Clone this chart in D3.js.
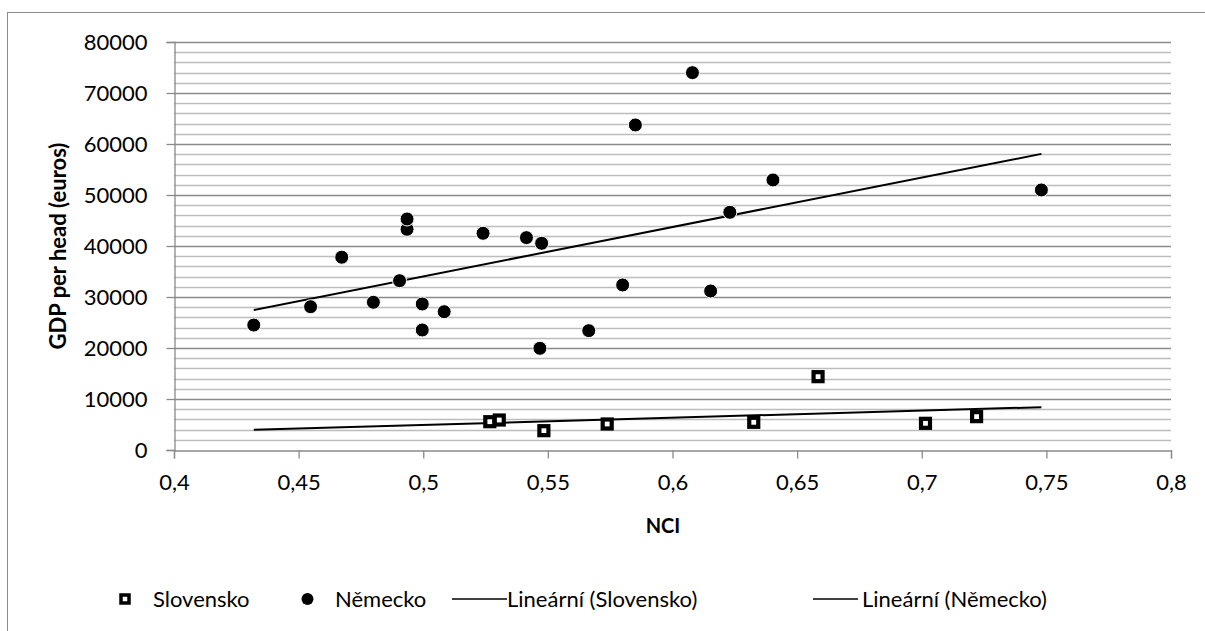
<!DOCTYPE html>
<html>
<head>
<meta charset="utf-8">
<script src="https://cdn.jsdelivr.net/npm/d3@7"></script>
<style>
  html, body { margin: 0; padding: 0; background: #fff; }
  svg { display: block; font-family: Lato, "Open Sans", sans-serif; }
</style>
</head>
<body>
<svg id="chart" width="1205" height="631"></svg>
<script>
// NCI vs. GDP per head, two regions
const slovenskoNci = [0.5267, 0.5305, 0.5484, 0.5738, 0.6326, 0.6584, 0.7015, 0.722];
const slovenskoGdp = [5550, 5880, 3790, 5100, 5430, 14380, 5230, 6540];

const nemeckoNci = [0.432, 0.4548, 0.4673, 0.48, 0.4905, 0.4935, 0.4935, 0.4996, 0.4996,
  0.5084, 0.524, 0.5414, 0.5475, 0.5468, 0.5664, 0.58, 0.5851, 0.608, 0.6153, 0.623, 0.6403, 0.748];
const nemeckoGdp = [24500, 28100, 37800, 28960, 33200, 43280, 45300, 28630, 23530,
  27120, 42490, 41640, 40530, 19940, 23400, 32360, 63730, 73990, 31180, 46610, 52950, 50990];

const xTicks = [0.4, 0.45, 0.5, 0.55, 0.6, 0.65, 0.7, 0.75, 0.8];
const yTicks = [0, 10000, 20000, 30000, 40000, 50000, 60000, 70000, 80000];
const yMinorStep = 2000;

const legendLabels = ["Slovensko", "Německo", "Lineární (Slovensko)", "Lineární (Německo)"];

const svg = d3.select("#chart");
const plot = { left: 174, right: 1171, top: 42, bottom: 450 };

const x = d3.scaleLinear().domain([0.4, 0.8]).range([plot.left, plot.right]);
const y = d3.scaleLinear().domain([0, 80000]).range([plot.bottom, plot.top]);

// chart-area frame
svg.append("rect")
  .attr("x", 7.5).attr("y", 12.5)
  .attr("width", 1300).attr("height", 700)
  .attr("fill", "none").attr("stroke", "#8c8c8c").attr("stroke-width", 1);

// minor horizontal gridlines
const minor = d3.range(0, 80001, yMinorStep).filter(v => v % 10000 !== 0);
svg.append("g").selectAll("line").data(minor).join("line")
  .attr("x1", plot.left).attr("x2", plot.right)
  .attr("y1", d => Math.round(y(d)) + 0.5).attr("y2", d => Math.round(y(d)) + 0.5)
  .attr("stroke", "#bdbdbd").attr("stroke-width", 1.3);

// major horizontal gridlines
svg.append("g").selectAll("line").data(yTicks.filter(v => v > 0)).join("line")
  .attr("x1", plot.left).attr("x2", plot.right)
  .attr("y1", d => Math.round(y(d)) + 0.5).attr("y2", d => Math.round(y(d)) + 0.5)
  .attr("stroke", "#8a8a8a").attr("stroke-width", 1.3);

// axes
const yAxis = d3.axisLeft(y).tickValues(yTicks).tickSize(8).tickPadding(19)
  .tickFormat(d => String(d));
const gy = svg.append("g").attr("transform", `translate(${plot.left + 0.5},0)`).call(yAxis);

const fmtX = d => String(+d.toFixed(2)).replace(".", ",");
const xAxis = d3.axisBottom(x).tickValues(xTicks).tickSize(8).tickPadding(16).tickFormat(fmtX);
const gx = svg.append("g").attr("transform", `translate(0,${plot.bottom + 0.5})`).call(xAxis);

[gx, gy].forEach(g => {
  g.select(".domain").attr("stroke", "#8a8a8a").attr("stroke-width", 1.3);
  g.selectAll(".tick line").attr("stroke", "#8a8a8a").attr("stroke-width", 1.3);
  g.selectAll(".tick text").attr("fill", "#000").style("font-size", "22px")
    .style("font-family", "Lato, sans-serif");
});
gy.selectAll(".tick text").attr("dy", "0.36em");

// axis titles
svg.append("text")
  .attr("transform", `translate(66,${(plot.top + plot.bottom) / 2}) rotate(-90)`)
  .attr("text-anchor", "middle")
  .style("font-size", "22px").style("font-weight", "bold")
  .text("GDP per head (euros)");

svg.append("text")
  .attr("x", 663).attr("y", 533)
  .attr("text-anchor", "middle")
  .style("font-size", "20px").style("font-weight", "bold")
  .text("NCI");

// least-squares trend lines over the combined NCI range
const allNci = slovenskoNci.concat(nemeckoNci);
const [xMin, xMax] = d3.extent(allNci);
function fit(xs, ys) {
  const mx = d3.mean(xs), my = d3.mean(ys);
  let sxy = 0, sxx = 0;
  xs.forEach((xv, i) => { sxy += (xv - mx) * (ys[i] - my); sxx += (xv - mx) ** 2; });
  const b = sxy / sxx, a = my - b * mx;
  return [[xMin, a + b * xMin], [xMax, a + b * xMax]];
}
const line = d3.line().x(d => x(d[0])).y(d => y(d[1]));
[fit(slovenskoNci, slovenskoGdp), fit(nemeckoNci, nemeckoGdp)].forEach(seg => {
  svg.append("path").attr("d", line(seg))
    .attr("fill", "none").attr("stroke", "#000").attr("stroke-width", 2);
});

// Německo points
svg.append("g").selectAll("circle").data(nemeckoNci).join("circle")
  .attr("cx", d => x(d)).attr("cy", (d, i) => y(nemeckoGdp[i]))
  .attr("r", 7).attr("fill", "#000").attr("stroke", "#fff").attr("stroke-width", 1);

// Slovensko points
svg.append("g").selectAll("rect").data(slovenskoNci).join("rect")
  .attr("x", d => x(d) - 4.5).attr("y", (d, i) => y(slovenskoGdp[i]) - 4.5)
  .attr("width", 9).attr("height", 9)
  .attr("fill", "#fff").attr("stroke", "#000").attr("stroke-width", 4.2);

// legend
const ly = 599;
const lg = svg.append("g").style("font-size", "22px");
lg.append("rect").attr("x", 121).attr("y", ly - 4).attr("width", 8).attr("height", 8)
  .attr("fill", "#fff").attr("stroke", "#000").attr("stroke-width", 3.5);
lg.append("text").attr("x", 153).attr("y", ly).attr("dy", "0.36em").text(legendLabels[0]);
lg.append("circle").attr("cx", 307.5).attr("cy", ly).attr("r", 6).attr("fill", "#000");
lg.append("text").attr("x", 335).attr("y", ly).attr("dy", "0.36em").text(legendLabels[1]);
lg.append("line").attr("x1", 452).attr("x2", 507).attr("y1", ly).attr("y2", ly)
  .attr("stroke", "#000").attr("stroke-width", 1.5);
lg.append("text").attr("x", 507).attr("y", ly).attr("dy", "0.36em").text(legendLabels[2]);
lg.append("line").attr("x1", 813).attr("x2", 858).attr("y1", ly).attr("y2", ly)
  .attr("stroke", "#000").attr("stroke-width", 1.5);
lg.append("text").attr("x", 862).attr("y", ly).attr("dy", "0.36em").text(legendLabels[3]);
</script>
</body>
</html>
